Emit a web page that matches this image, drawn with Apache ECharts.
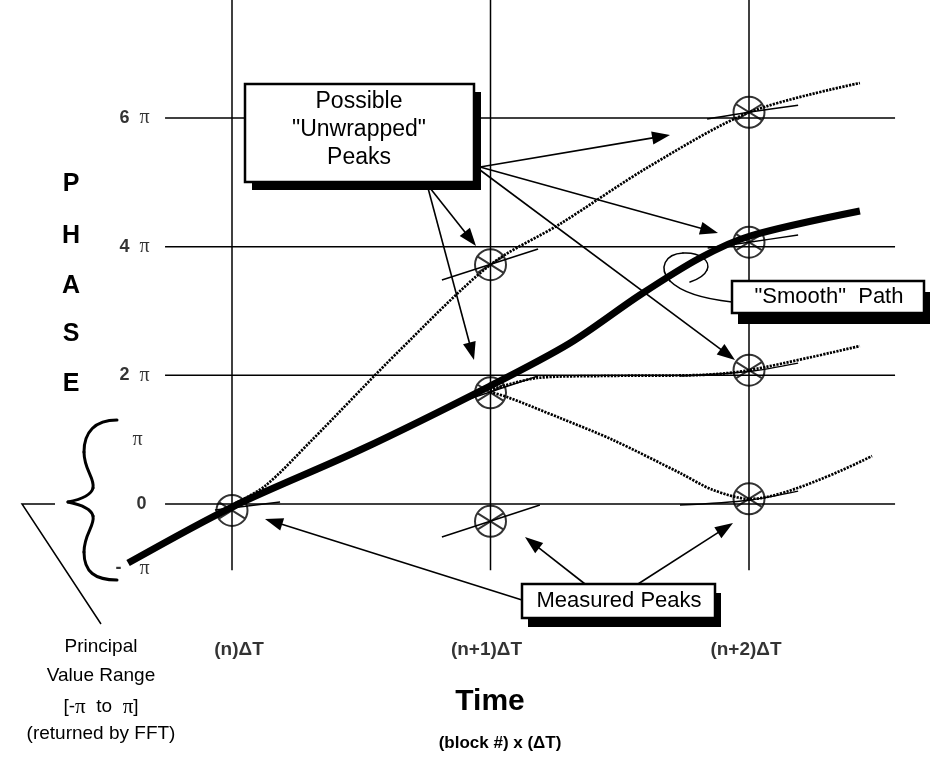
<!DOCTYPE html>
<html>
<head>
<meta charset="utf-8">
<script src="https://cdn.jsdelivr.net/npm/echarts@6/dist/echarts.min.js"></script>
<style>html,body{margin:0;padding:0;background:#fff}#c{width:931px;height:761px}</style>
</head>
<body>
<div id="c"></div>
<script>
// ---------- data (x in block steps from n, y in units of pi) ----------
const timeSteps = [0, 1, 2];
const timeLabels = ['(n)ΔT', '(n+1)ΔT', '(n+2)ΔT'];
const phaseLevels = [0, 2, 4, 6];
const tickValues = [6, 4, 2, 1, 0, -1];
const tickLabels = ['6|π', '4|π', '2|π', '|π', '0|', '-|π'];

const peaksN  = [[0, -0.1]];
const peaksN1 = [[1, -0.27], [1, 1.73], [1, 3.72]];
const peaksN2 = [[2, 0.08], [2, 2.08], [2, 4.07], [2, 6.09]];

const smoothPath = [[-0.402, -0.917], [0, -0.047], [0.495, 0.839], [0.998, 1.834], [1.308, 2.503],
  [1.578, 3.249], [1.810, 3.824], [2.004, 4.166], [2.429, 4.555]];

const unwrapA = [[0, -0.016], [0.128, 0.28], [0.302, 0.964], [0.650, 2.394], [0.998, 3.715],
  [1.269, 4.353], [1.617, 5.254], [2.004, 6.094], [2.429, 6.544]];
const unwrapB = [[0.998, 1.772], [1.180, 1.959], [1.424, 1.990], [1.810, 2.005], [2.004, 2.083], [2.429, 2.456]];
const unwrapC = [[0.998, 1.741], [1.064, 1.663], [1.269, 1.337], [1.474, 0.995], [1.733, 0.482],
  [1.861, 0.218], [2.004, 0.078], [2.476, 0.746]];

const peakTangents = [
  [[-0.066, -0.093], [0.186, 0.031]],
  [[0.812, -0.513], [1.191, -0.016]],
  [[0.812, 1.49], [1.184, 1.99]],
  [[0.812, 3.482], [1.184, 3.964]],
  [[1.733, -0.016], [2.0, 0.06], [2.19, 0.2]],
  [[1.733, 1.99], [2.0, 2.06], [2.19, 2.19]],
  [[1.84, 3.98], [2.0, 4.07], [2.19, 4.18]],
  [[1.838, 5.985], [2.004, 6.094], [2.19, 6.2]]
];

// ---------- layout ----------
const X0 = 232, UX = 258.5, Y0 = 504, UY = 64.33;
const W = 931, H = 761;
const SANS = "'Liberation Sans', Arial, Helvetica, sans-serif";
const SERIF = "'Liberation Serif', 'DejaVu Serif', serif";

const chart = echarts.init(document.getElementById('c'), null, {renderer: 'canvas'});

const series = [];
const thin = {color: '#000', width: 1.5};
timeSteps.forEach(t => series.push({type: 'line', data: [[t, -1.03], [t, 7.9]], showSymbol: false, lineStyle: thin, z: 1, silent: true}));
phaseLevels.forEach(p => series.push({type: 'line', data: [[-0.259, p], [2.565, p]], showSymbol: false, lineStyle: thin, z: 1, silent: true}));

const dotted = {color: '#000', width: 2.7, type: [2.2, 1.2]};
[unwrapA, unwrapB, unwrapC].forEach(d => series.push({type: 'line', data: d, smooth: 0.3, showSymbol: false, lineStyle: dotted, z: 2}));
peakTangents.forEach(d => series.push({type: 'line', data: d, smooth: 0.3, showSymbol: false, lineStyle: {color: '#000', width: 1.5}, z: 3}));
series.push({type: 'line', data: smoothPath, smooth: 0.3, showSymbol: false, lineStyle: {color: '#000', width: 7}, z: 4});

const peakSymbol = 'path://M16,0A16,16,0,1,1,16,32A16,16,0,1,1,16,0ZM2.4,7.5L29.6,24.5M2.4,24.5L29.6,7.5';
series.push({type: 'scatter', data: peaksN.concat(peaksN1, peaksN2), symbol: peakSymbol, symbolSize: 31,
  itemStyle: {color: 'rgba(0,0,0,0)', borderColor: '#000', borderWidth: 2}, z: 6});

// tick labels (phase)
const tickOffsets = {1: -7, 0: -3};
series.push({type: 'scatter', symbolSize: 1, itemStyle: {color: 'rgba(0,0,0,0)'}, z: 7,
  data: tickValues.map((v, i) => ({value: [(150 - X0) / UX, v], name: tickLabels[i],
    label: {offset: [tickOffsets[v] || 0, 0]}})),
  label: {show: true, position: 'left', distance: 0,
    formatter: p => { const [a, b] = p.name.split('|'); return (a ? '{' + (a === '-' ? 'm' : 'n') + '|' + a + '}' : '') + (b ? '{p|' + b + '}' : ''); },
    rich: {n: {fontSize: 18, fontWeight: 'bold', fontFamily: SANS, color: '#000'},
           m: {fontSize: 18, fontWeight: 'bold', fontFamily: SANS, color: '#000', padding: [0, 8, 0, 0]},
           p: {fontSize: 20, fontFamily: SERIF, color: '#000', padding: [0, 0, 0, 10]}}}});

// time labels
const timeOffsets = [7, -4, -3];
series.push({type: 'scatter', symbolSize: 1, itemStyle: {color: 'rgba(0,0,0,0)'}, z: 7,
  data: timeSteps.map((t, i) => ({value: [t, (Y0 - 650) / UY], name: timeLabels[i], label: {offset: [timeOffsets[i], 0]}})),
  label: {show: true, position: 'inside', formatter: p => p.name, fontSize: 19, fontWeight: 'bold', fontFamily: SANS, color: '#000'}});

// ---------- annotations ----------
const g = [];
function txt(x, y, text, font, extra) {
  g.push({type: 'text', x, y, z: 120, style: Object.assign({text, font, fill: '#000', align: 'center', verticalAlign: 'middle'}, extra || {})});
}
function box(x1, y1, x2, y2, sx, sy) {
  g.push({type: 'rect', z: 100, shape: {x: x1 + sx, y: y1 + sy, width: x2 - x1, height: y2 - y1}, style: {fill: '#000'}});
  g.push({type: 'rect', z: 101, shape: {x: x1, y: y1, width: x2 - x1, height: y2 - y1}, style: {fill: '#fff', stroke: '#000', lineWidth: 2.5}});
}
function arrow(x1, y1, x2, y2) {
  const a = Math.atan2(y2 - y1, x2 - x1), L = 18, Wd = 6.5;
  const c = Math.cos(a), s = Math.sin(a);
  const bx = x2 - L * c, by = y2 - L * s;
  g.push({type: 'line', z: 90, shape: {x1, y1, x2: bx + 2 * c, y2: by + 2 * s}, style: {stroke: '#000', lineWidth: 1.6}});
  g.push({type: 'polygon', z: 90, shape: {points: [[x2, y2], [bx - Wd * s, by + Wd * c], [bx + Wd * s, by - Wd * c]]}, style: {fill: '#000'}});
}
// chain of cubic curves: start point followed by (cp1, cp2, end) triples
function curves(pts, width) {
  let [x, y] = pts[0];
  for (let i = 1; i + 2 <= pts.length - 1; i += 3) {
    const [c1, c2, e] = [pts[i], pts[i + 1], pts[i + 2]];
    g.push({type: 'bezierCurve', z: 95, shape: {x1: x, y1: y, cpx1: c1[0], cpy1: c1[1], cpx2: c2[0], cpy2: c2[1], x2: e[0], y2: e[1]},
      style: {fill: 'none', stroke: '#000', lineWidth: width, lineCap: 'round'}});
    [x, y] = e;
  }
}

// arrows from "Possible Unwrapped Peaks"
arrow(480, 167, 670, 135);
arrow(480, 167, 718, 233);
arrow(480, 170, 735, 360);
arrow(430, 188, 476, 246);
arrow(428, 188, 474, 360);
// arrows from "Measured Peaks"
arrow(585, 584, 525, 537);
arrow(638, 584, 733, 523);
arrow(522, 600, 265, 519);

box(245, 84, 474, 182, 7, 8);
txt(359, 102, 'Possible', '23px ' + SANS);
txt(359, 130, '"Unwrapped"', '23px ' + SANS);
txt(359, 158, 'Peaks', '23px ' + SANS);

box(732, 281, 924, 313, 6, 11);
txt(829, 297, '"Smooth"  Path', '22px ' + SANS);

box(522, 584, 715, 618, 6, 9);
txt(619, 601, 'Measured Peaks', '22px ' + SANS);

// smooth-path lasso
curves([[732, 302], [705, 299], [681, 292], [670, 281], [658, 268], [665, 254], [683, 253],
  [700, 252], [711, 261], [707, 270], [704, 277], [696, 280], [690, 282]], 1.5);

// brace and principal range callout
curves([[117, 420], [95, 420], [84, 432], [84, 452], [84, 470], [95, 478], [93, 488], [91, 496], [78, 500], [68, 502],
  [78, 504], [91, 508], [93, 516], [95, 526], [84, 534], [84, 552], [84, 572], [95, 580], [117, 580]], 3);
g.push({type: 'polyline', z: 95, shape: {points: [[55, 504], [22, 504], [101, 624]]}, style: {fill: 'none', stroke: '#000', lineWidth: 1.5}});

// PHASE
['P', 'H', 'A', 'S', 'E'].forEach((ch, i) => txt(71, [184, 236, 286, 334, 384][i], ch, 'bold 25px ' + SANS));

// principal value text
txt(101, 647, 'Principal', '19px ' + SANS);
txt(101, 676, 'Value Range', '19px ' + SANS);
g.push({type: 'text', x: 101, y: 707, z: 120, style: {text: '[-{p|π}  to  {p|π}]', font: '19px ' + SANS, fill: '#000', align: 'center', verticalAlign: 'middle',
  rich: {p: {font: '21px ' + SERIF, fill: '#000'}}}});
txt(101, 734, '(returned by FFT)', '19px ' + SANS);

// axis title
txt(490, 702, 'Time', 'bold 30px ' + SANS);
txt(500, 743, '(block #) x (ΔT)', 'bold 17px ' + SANS);

chart.setOption({
  animation: false,
  backgroundColor: '#fff',
  grid: {left: 0, right: 0, top: 0, bottom: 0},
  xAxis: {type: 'value', min: -X0 / UX, max: (W - X0) / UX, show: false},
  yAxis: {type: 'value', min: -(H - Y0) / UY, max: Y0 / UY, show: false},
  series,
  graphic: g
});
</script>
</body>
</html>
